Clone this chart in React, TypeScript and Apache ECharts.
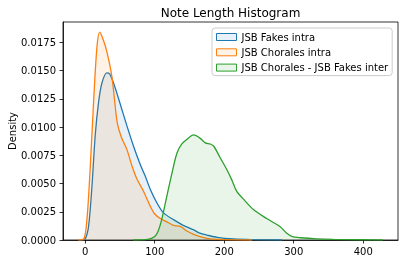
import React, { useEffect, useRef } from "react";
import * as echarts from "echarts";

const titleText = "Note Length Histogram";
const seriesNames = ["JSB Fakes intra", "JSB Chorales intra", "JSB Chorales - JSB Fakes inter"];
const seriesColors = ["#1f77b4", "#ff7f0e", "#2ca02c"];
const fillColors = ["rgba(31,119,180,0.1)", "rgba(255,127,14,0.1)", "rgba(44,160,44,0.1)"];

const xTicks = [0, 100, 200, 300, 400];
const yTicks = [0, 0.0025, 0.005, 0.0075, 0.01, 0.0125, 0.015, 0.0175];

const fakesX = [-5, 0, 4.8, 9.6, 14.4, 19.2, 24, 31, 35, 40.7, 48, 60, 69.5, 79, 86, 93.5, 103, 112.6, 127, 141, 156, 165, 175, 190, 213, 240, 283];
const fakesY = [0, 0.0001, 0.0012, 0.0047, 0.0093, 0.0122, 0.0139, 0.0148, 0.0147, 0.0139, 0.0125, 0.0101, 0.0083, 0.0067, 0.0057, 0.0045, 0.0033, 0.0024, 0.0018, 0.0013, 0.0009, 0.0006, 0.00044, 0.00024, 0.0001, 0.00004, 0];

const choralesX = [-10, -2, 2.4, 7, 12, 17, 21, 26, 31, 38, 42, 46, 52, 60, 67, 74.4, 84, 93.5, 100, 108, 117.5, 127, 136.7, 146, 156, 165, 180, 200, 240];
const choralesY = [0, 0.0001, 0.0018, 0.0062, 0.0122, 0.0172, 0.0184, 0.0177, 0.0167, 0.0146, 0.0125, 0.0104, 0.0091, 0.008, 0.0066, 0.0054, 0.0043, 0.003, 0.0023, 0.0019, 0.0016, 0.0013, 0.0012, 0.0008, 0.0005, 0.0003, 0.0001, 0.00004, 0];

const interX = [69, 90, 100, 105, 110, 117.5, 124.7, 132, 139, 146, 156, 165.5, 172.7, 180, 185, 194, 204, 211, 218, 228, 242, 261, 280, 290, 298, 310, 333, 357, 400, 428];
const interY = [0, 0.00005, 0.0003, 0.0008, 0.0018, 0.0039, 0.0059, 0.0077, 0.0085, 0.0089, 0.0093, 0.009, 0.0086, 0.0085, 0.0083, 0.0073, 0.0062, 0.0053, 0.0043, 0.0036, 0.0027, 0.0019, 0.0012, 0.0006, 0.0003, 0.0002, 0.0001, 0.00005, 0.00002, 0];

const allX = [fakesX, choralesX, interX];
const allY = [fakesY, choralesY, interY];

const FONT = "DejaVu Sans";

export default function App() {
  const ref = useRef<HTMLDivElement>(null);
  useEffect(() => {
    document.body.style.margin = "0";
    const chart = echarts.init(ref.current!, null, { renderer: "svg" });
    const series = seriesNames.map((name, i) => ({
      name,
      type: "line",
      data: allX[i].map((x, j) => [x, allY[i][j]]),
      showSymbol: false,
      symbol: "none",
      smooth: 0.3,
      lineStyle: { color: seriesColors[i], width: 1.3 },
      itemStyle: { color: seriesColors[i] },
      areaStyle: { color: fillColors[i], opacity: 1, origin: "start" },
      z: 2 + i,
    }));
    chart.setOption({
      animation: false,
      grid: {
        left: 63,
        right: 7,
        top: 22,
        bottom: 24,
        show: true,
        borderColor: "#000",
        borderWidth: 0.8,
        backgroundColor: "transparent",
        containLabel: false,
        outerBoundsMode: "none",
      },
      xAxis: {
        type: "value",
        min: -32,
        max: 450,
        splitLine: { show: false },
        axisLine: { show: true, onZero: false, lineStyle: { color: "#000", width: 0.8 } },
        axisTick: { show: true, length: 3.5, lineStyle: { color: "#000", width: 0.8 }, customValues: xTicks },
        axisLabel: { color: "#000", fontSize: 10, fontFamily: FONT, margin: 6, customValues: xTicks },
      },
      yAxis: {
        type: "value",
        min: 0,
        max: 0.0193,
        name: "Density",
        nameLocation: "middle",
        nameGap: 46,
        nameMoveOverlap: false,
        nameTextStyle: { color: "#000", fontSize: 10, fontFamily: FONT },
        splitLine: { show: false },
        axisLine: { show: true, onZero: false, lineStyle: { color: "#000", width: 0.8 } },
        axisTick: { show: true, length: 3.5, lineStyle: { color: "#000", width: 0.8 }, customValues: yTicks },
        axisLabel: {
          color: "#000",
          fontSize: 10,
          fontFamily: FONT,
          margin: 7,
          customValues: yTicks,
          formatter: (v: number) => v.toFixed(4),
        },
      },
      legend: {
        orient: "vertical",
        left: 212,
        top: 28,
        padding: [3, 4, 2, 4],
        itemGap: 3.3,
        itemWidth: 20,
        itemHeight: 7,
        backgroundColor: "rgba(255,255,255,0.8)",
        borderColor: "#cccccc",
        borderWidth: 1,
        borderRadius: 3,
        textStyle: { color: "#000", fontSize: 10, fontFamily: FONT, lineHeight: 12 },
        data: seriesNames.map((name, i) => ({
          name,
          icon: "rect",
          itemStyle: { color: fillColors[i], borderColor: seriesColors[i], borderWidth: 1 },
        })),
      },
      graphic: [
        {
          type: "text",
          x: 230.5,
          y: 13,
          style: {
            text: titleText,
            font: `12px "${FONT}"`,
            fill: "#000",
            align: "center",
            verticalAlign: "middle",
            textAlign: "center",
            textVerticalAlign: "middle",
          },
        },
      ],
      series,
    });
    return () => chart.dispose();
  }, []);
  return <div ref={ref} style={{ position: "fixed", left: 0, top: 0, width: 405, height: 264 }} />;
}
